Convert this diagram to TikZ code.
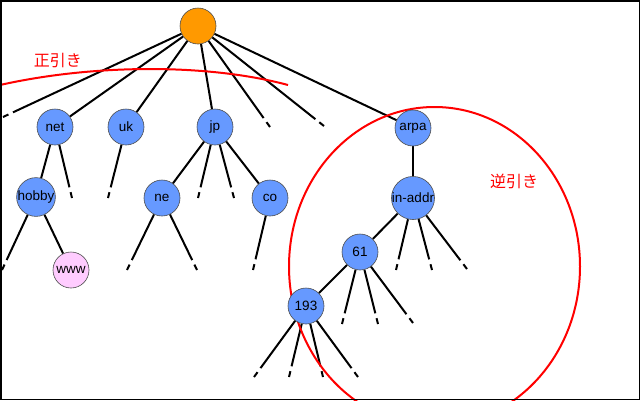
\documentclass[tikz,border=0pt]{standalone}
\usepackage{fontspec}
\setmainfont{Liberation Sans}
\newfontfamily\jpfont{Noto Sans CJK JP}
\usetikzlibrary{calc}
\pgfdeclarelayer{background}
\pgfsetlayers{background,main}
\definecolor{nodeblue}{RGB}{102,153,255}
\definecolor{rootorange}{RGB}{255,153,0}
\definecolor{wwwpink}{RGB}{255,204,255}
\newcommand\leafline[2]{%
  \draw[edgeline] (#1) -- ($(#2)!11pt!(#1)$);
  \draw[edgeline] ($(#2)!6pt!(#1)$) -- (#2);}
\begin{document}
\begin{tikzpicture}[x=1pt,y=-1pt,
  dn/.style={circle, draw=black!70, line width=0.6pt, fill=nodeblue,
    minimum size=36pt, inner sep=0pt, font=\fontsize{13.5}{15}\selectfont},
  edgeline/.style={line width=2pt, black},
  redline/.style={line width=2pt, red},
  jplabel/.style={text=red, font=\jpfont\fontsize{16}{18}\selectfont, inner sep=0pt}]
\useasboundingbox (0,0) rectangle (640,400);
% nodes
\node[dn, fill=rootorange] (root) at (198,26) {};
\node[dn] (net) at (55,127) {net};
\node[dn] (uk) at (126,127) {uk};
\node[dn] (jp) at (215,127) {jp};
\node[dn] (arpa) at (413,128) {arpa};
\node[dn] (hobby) at (36,197) {hobby};
\node[dn] (ne) at (162,198) {ne};
\node[dn] (co) at (270,198) {co};
\node[dn] (inaddr) at (413,198) {in-addr};
\node[dn, fill=wwwpink] (www) at (71,270) {www};
\node[dn] (n61) at (360,252) {61};
\node[dn] (n193) at (306,306) {193};
% leaf end points
\coordinate (r1) at (3,117);
\coordinate (r5) at (270,127);
\coordinate (r6) at (324,126);
\coordinate (net2) at (72,198);
\coordinate (uk1) at (108,198);
\coordinate (jp2) at (198,198);
\coordinate (jp3) at (234,198);
\coordinate (hob1) at (2,270);
\coordinate (ne1) at (127,270);
\coordinate (ne2) at (197,270);
\coordinate (co1) at (253,270);
\coordinate (ia2) at (396,270);
\coordinate (ia3) at (432,270);
\coordinate (ia4) at (467,269);
\coordinate (s2) at (342,324);
\coordinate (s3) at (378,324);
\coordinate (s4) at (413,323);
\coordinate (t1) at (254,377);
\coordinate (t2) at (289,377);
\coordinate (t3) at (323,377);
\coordinate (t4) at (358,377);
\begin{pgfonlayer}{background}
\begin{scope}
\clip (0,0) rectangle (640,400);
\leafline{root}{r1}
\draw[edgeline] (root) -- (net);
\draw[edgeline] (root) -- (uk);
\draw[edgeline] (root) -- (jp);
\leafline{root}{r5}
\leafline{root}{r6}
\draw[edgeline] (root) -- (arpa);
\draw[edgeline] (net) -- (hobby);
\leafline{net}{net2}
\leafline{uk}{uk1}
\draw[edgeline] (jp) -- (ne);
\leafline{jp}{jp2}
\leafline{jp}{jp3}
\draw[edgeline] (jp) -- (co);
\leafline{hobby}{hob1}
\draw[edgeline] (hobby) -- (www);
\leafline{ne}{ne1}
\leafline{ne}{ne2}
\leafline{co}{co1}
\draw[edgeline] (arpa) -- (inaddr);
\draw[edgeline] (inaddr) -- (n61);
\leafline{inaddr}{ia2}
\leafline{inaddr}{ia3}
\leafline{inaddr}{ia4}
\draw[edgeline] (n61) -- (n193);
\leafline{n61}{s2}
\leafline{n61}{s3}
\leafline{n61}{s4}
\leafline{n193}{t1}
\leafline{n193}{t2}
\leafline{n193}{t3}
\leafline{n193}{t4}
% red curves
\draw[redline] (0,85) .. controls (95,63.7) and (209,63.7) .. (288,85);
\draw[redline] (434.5,266.5) ellipse [x radius=145.5, y radius=159.5];
\end{scope}
\end{pgfonlayer}
% labels
\node[jplabel] (seihiki) at (58,60) {正引き};
\node[jplabel] (gyakuhiki) at (514,181) {逆引き};
% border
\draw[line width=1.5pt] (0.75,0.75) rectangle (639.25,399.25);
\end{tikzpicture}
\end{document}
